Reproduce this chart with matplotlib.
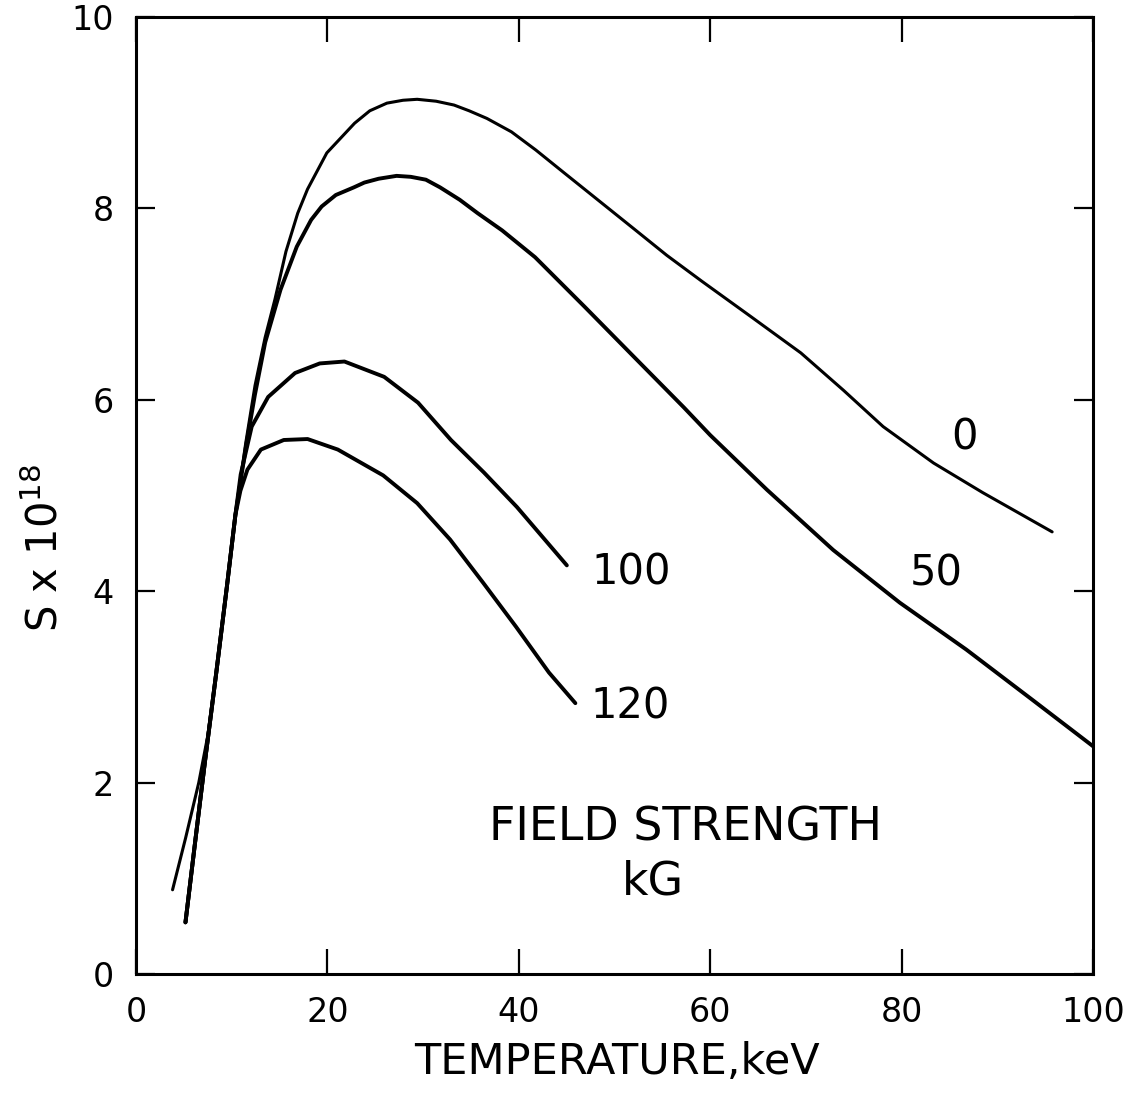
import matplotlib
matplotlib.use("Agg")
import matplotlib.pyplot as plt

# Field strength labels (kG)
fields = ["0", "50", "100", "120"]

# Temperature (keV) and S x 1e18 for each field strength
T_0 = [3.82, 5.18, 6.56, 7.52, 8.39, 9.50, 10.39, 11.47, 12.44, 13.49, 14.52, 15.67,
       16.90, 17.92, 19.94, 22.84, 24.43, 26.22, 27.90, 29.38, 31.36, 33.23, 34.81,
       36.67, 39.23, 41.78, 44.63, 47.00, 52.11, 55.46, 59.11, 64.24, 69.47, 73.92,
       78.07, 83.33, 88.48, 95.73]
S_0 = [0.88, 1.42, 2.0, 2.5, 3.15, 4.05, 4.8, 5.55, 6.15, 6.65, 7.05, 7.55,
       7.95, 8.2, 8.58, 8.89, 9.02, 9.10, 9.13, 9.14, 9.12, 9.08, 9.02,
       8.94, 8.80, 8.61, 8.38, 8.19, 7.78, 7.51, 7.24, 6.87, 6.49, 6.10,
       5.72, 5.34, 5.03, 4.62]

T_50 = [5.17, 6.18, 7.18, 8.39, 9.50, 10.39, 11.47, 12.42, 13.5, 15.1, 16.8, 18.3,
        19.4, 20.88, 22.77, 23.86, 25.35, 27.23, 28.71, 30.29, 31.77, 33.83, 35.70,
        38.26, 41.70, 46.90, 52.02, 57.25, 60.01, 65.93, 72.86, 79.81, 86.76,
        93.73, 100.0]
S_50 = [0.54, 1.38, 2.2, 3.15, 4.05, 4.8, 5.5, 6.05, 6.6, 7.15, 7.6, 7.88,
        8.02, 8.14, 8.22, 8.27, 8.31, 8.34, 8.33, 8.30, 8.22, 8.09, 7.95,
        7.77, 7.49, 6.97, 6.45, 5.92, 5.63, 5.06, 4.43, 3.88, 3.39,
        2.86, 2.38]

T_100 = [5.17, 6.18, 7.18, 8.39, 9.50, 10.39, 10.94, 12.09, 13.81, 16.62, 19.20,
         21.78, 25.93, 29.47, 32.91, 36.36, 39.80, 45.02]
S_100 = [0.54, 1.38, 2.2, 3.15, 4.05, 4.8, 5.22, 5.72, 6.03, 6.28, 6.38,
         6.40, 6.24, 5.97, 5.58, 5.24, 4.88, 4.27]

T_120 = [5.17, 6.18, 7.18, 8.39, 9.50, 10.39, 10.91, 11.64, 13.05, 15.44, 17.93,
         21.09, 25.83, 29.38, 32.82, 36.26, 39.70, 43.15, 45.91]
S_120 = [0.54, 1.38, 2.2, 3.15, 4.05, 4.8, 5.05, 5.27, 5.48, 5.58, 5.59,
         5.48, 5.21, 4.92, 4.54, 4.09, 3.63, 3.15, 2.83]

x_ticks = [0, 20, 40, 60, 80, 100]
y_ticks = [0, 2, 4, 6, 8, 10]

plt.rcParams['font.family'] = ['DejaVu Sans']

fig = plt.figure(figsize=(11.23, 10.94), dpi=100)
ax = fig.add_axes([136/1123, 1-974/1094, (1093-136)/1123, (974-17)/1094])

style = dict(color='black', solid_capstyle='round', solid_joinstyle='round')
ax.plot(T_0, S_0, lw=2.2, **style)
ax.plot(T_50, S_50, lw=2.8, **style)
ax.plot(T_100, S_100, lw=2.8, **style)
ax.plot(T_120, S_120, lw=2.8, **style)

ax.set_xlim(0, 100)
ax.set_ylim(0, 10)
ax.set_xticks(x_ticks)
ax.set_yticks(y_ticks)
ax.set_xticklabels([str(v) for v in x_ticks], fontsize=24)
ax.set_yticklabels([str(v) for v in y_ticks], fontsize=24)
ax.tick_params(axis='x', direction='in', length=18, width=1.6, top=True, pad=16)
ax.tick_params(axis='y', direction='in', length=14, width=1.6, right=True, pad=16)
for s in ax.spines.values():
    s.set_linewidth(2.2)

# curve labels
ax.text(86.6, 5.61, fields[0], fontsize=30, ha='center', va='center')
ax.text(83.6, 4.19, fields[1], fontsize=30, ha='center', va='center')
ax.text(51.7, 4.20, fields[2], fontsize=30, ha='center', va='center')
ax.text(51.6, 2.80, fields[3], fontsize=30, ha='center', va='center')
ax.text(57.4, 1.53, "FIELD STRENGTH", fontsize=33, ha='center', va='center')
ax.text(54.0, 0.96, "kG", fontsize=33, ha='center', va='center')

fig.text(617/1123, 1-1062/1094, "TEMPERATURE,keV", fontsize=31, ha='center', va='center')
fig.text(45/1123, 1-548/1094, r"S x 10$^{18}$", fontsize=30, ha='center', va='center', rotation=90)

fig.savefig("out.png", dpi=100, facecolor='white')
